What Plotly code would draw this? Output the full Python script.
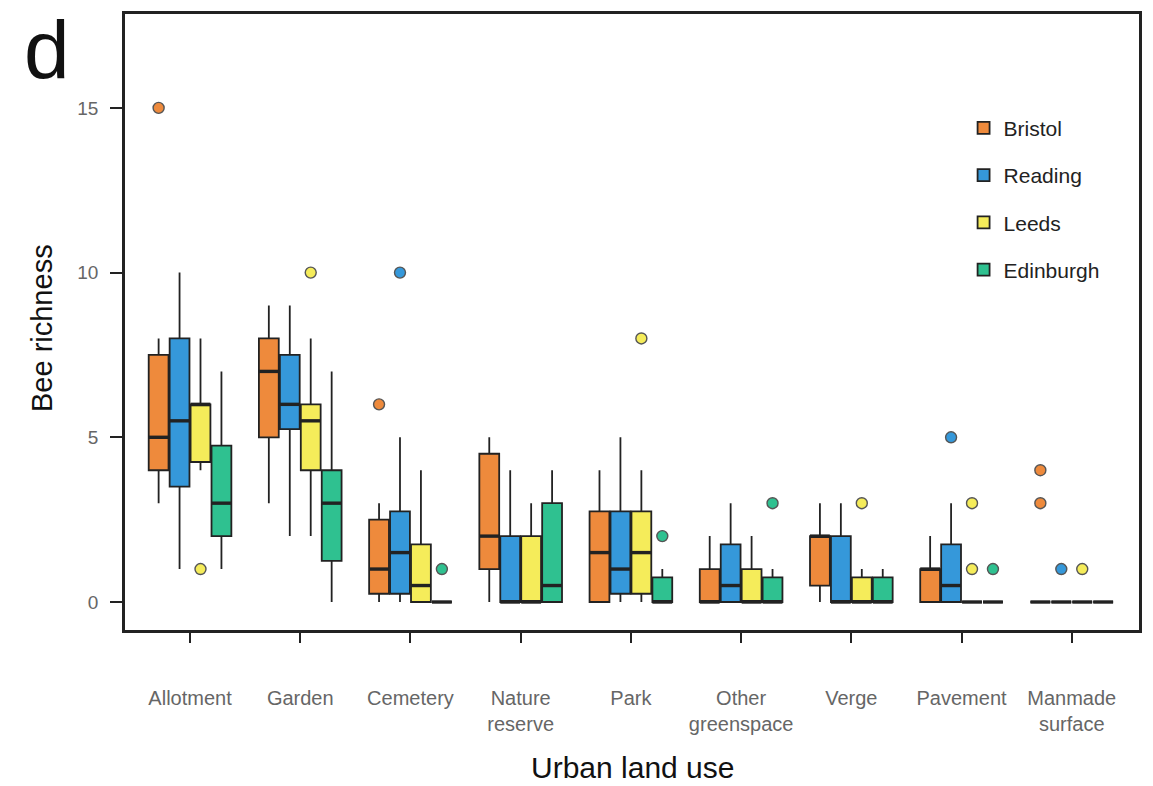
import plotly.graph_objects as go

categories = ["Allotment", "Garden", "Cemetery", "Nature<br>reserve", "Park",
              "Other<br>greenspace", "Verge", "Pavement", "Manmade<br>surface"]
cities = ["Bristol", "Reading", "Leeds", "Edinburgh"]
city_colors = ["#EE8A3C", "#3598DA", "#F5EC5A", "#2FC190"]

bristol_low = [3, 3, 0, 0, 0, 0, 0, 0, 0]
bristol_q1 = [4, 5, 0.25, 1, 0, 0, 0.5, 0, 0]
bristol_med = [5, 7, 1, 2, 1.5, 0, 2, 1, 0]
bristol_q3 = [7.5, 8, 2.5, 4.5, 2.75, 1, 2, 1, 0]
bristol_high = [8, 9, 3, 5, 4, 2, 3, 2, 0]
bristol_out_cat = [0, 2, 8, 8]
bristol_out_val = [15, 6, 4, 3]

reading_low = [1, 2, 0, 0, 0, 0, 0, 0, 0]
reading_q1 = [3.5, 5.25, 0.25, 0, 0.25, 0, 0, 0, 0]
reading_med = [5.5, 6, 1.5, 0, 1, 0.5, 0, 0.5, 0]
reading_q3 = [8, 7.5, 2.75, 2, 2.75, 1.75, 2, 1.75, 0]
reading_high = [10, 9, 5, 4, 5, 3, 3, 3, 0]
reading_out_cat = [2, 7, 8]
reading_out_val = [10, 5, 1]

leeds_low = [4, 2, 0, 0, 0, 0, 0, 0, 0]
leeds_q1 = [4.25, 4, 0, 0, 0.25, 0, 0, 0, 0]
leeds_med = [6, 5.5, 0.5, 0, 1.5, 0, 0, 0, 0]
leeds_q3 = [6, 6, 1.75, 2, 2.75, 1, 0.75, 0, 0]
leeds_high = [8, 8, 4, 3, 4, 2, 1, 0, 0]
leeds_out_cat = [0, 1, 4, 6, 7, 7, 8]
leeds_out_val = [1, 10, 8, 3, 3, 1, 1]

edinburgh_low = [1, 0, 0, 0, 0, 0, 0, 0, 0]
edinburgh_q1 = [2, 1.25, 0, 0, 0, 0, 0, 0, 0]
edinburgh_med = [3, 3, 0, 0.5, 0, 0, 0, 0, 0]
edinburgh_q3 = [4.75, 4, 0, 3, 0.75, 0.75, 0.75, 0, 0]
edinburgh_high = [7, 7, 0, 4, 1, 1, 1, 0, 0]
edinburgh_out_cat = [2, 4, 5, 7]
edinburgh_out_val = [1, 2, 3, 1]

stats = [
    (bristol_low, bristol_q1, bristol_med, bristol_q3, bristol_high, bristol_out_cat, bristol_out_val),
    (reading_low, reading_q1, reading_med, reading_q3, reading_high, reading_out_cat, reading_out_val),
    (leeds_low, leeds_q1, leeds_med, leeds_q3, leeds_high, leeds_out_cat, leeds_out_val),
    (edinburgh_low, edinburgh_q1, edinburgh_med, edinburgh_q3, edinburgh_high, edinburgh_out_cat, edinburgh_out_val),
]

slot = 0.19
box_w = 0.18
dark = "#222222"
font_family = "Liberation Sans, Arial, Helvetica, sans-serif"

fig = go.Figure()
n_cities = len(cities)
for j, (city, col, st) in enumerate(zip(cities, city_colors, stats)):
    low, q1, med, q3, high, out_cat, out_val = st
    off = (j - (n_cities - 1) / 2) * slot
    xs = [i + off for i in range(len(categories))]
    fig.add_trace(go.Box(
        x=xs, q1=q1, median=med, q3=q3, lowerfence=low, upperfence=high,
        name=city, width=box_w, fillcolor=col,
        line=dict(color=dark, width=1.8), whiskerwidth=0,
        boxpoints=False, legendgroup=city, hoverinfo="skip",
    ))
    # thicker median lines
    mx, my = [], []
    for x, m in zip(xs, med):
        mx += [x - box_w / 2, x + box_w / 2, None]
        my += [m, m, None]
    fig.add_trace(go.Scatter(x=mx, y=my, mode="lines",
                             line=dict(color=dark, width=3.4),
                             showlegend=False, hoverinfo="skip", legendgroup=city))
    fig.add_trace(go.Scatter(
        x=[c + off for c in out_cat], y=out_val, mode="markers",
        marker=dict(size=11, color=col, line=dict(color="#555555", width=1.4)),
        showlegend=False, hoverinfo="skip", legendgroup=city))

fig.update_layout(
    width=1153, height=786,
    margin=dict(l=125, r=11, t=13, b=156),
    paper_bgcolor="white", plot_bgcolor="white",
    font=dict(family=font_family, color="#222"),
    showlegend=True,
    legend=dict(x=0.827, y=0.848, xanchor="left", yanchor="top",
                font=dict(size=21, color="#222"), tracegroupgap=17,
                bgcolor="rgba(0,0,0,0)", traceorder="grouped"),
    xaxis=dict(
        range=[-0.59, 8.61], tickmode="array",
        tickvals=list(range(len(categories))), ticktext=categories,
        showgrid=False, zeroline=False, showline=True, mirror=True,
        linecolor=dark, linewidth=2.5, ticks="outside", ticklen=10,
        tickwidth=1.6, tickcolor=dark, ticklabelstandoff=38,
        tickfont=dict(size=20, color="#666666"),
    ),
    yaxis=dict(
        range=[-0.85, 17.85], tickmode="array", tickvals=[0, 5, 10, 15],
        showgrid=False, zeroline=False, showline=True, mirror=True,
        linecolor=dark, linewidth=2.5, ticks="outside", ticklen=12,
        tickwidth=1.6, tickcolor=dark, ticklabelstandoff=8,
        tickfont=dict(size=19, color="#666666"),
    ),
    annotations=[
        dict(text="Urban land use", xref="paper", yref="paper", x=0.5, y=-0.2237,
             xanchor="center", yanchor="middle", showarrow=False,
             font=dict(size=30, color="#111")),
        dict(text="Bee richness", xref="paper", yref="paper", x=-0.082, y=0.49,
             xanchor="center", yanchor="middle", showarrow=False, textangle=-90,
             font=dict(size=29, color="#111")),
        dict(text="d", xref="paper", yref="paper", x=-0.077, y=1.019,
             xanchor="center", yanchor="top", showarrow=False,
             font=dict(size=82, color="#111")),
    ],
)

fig.write_html("out.html")
